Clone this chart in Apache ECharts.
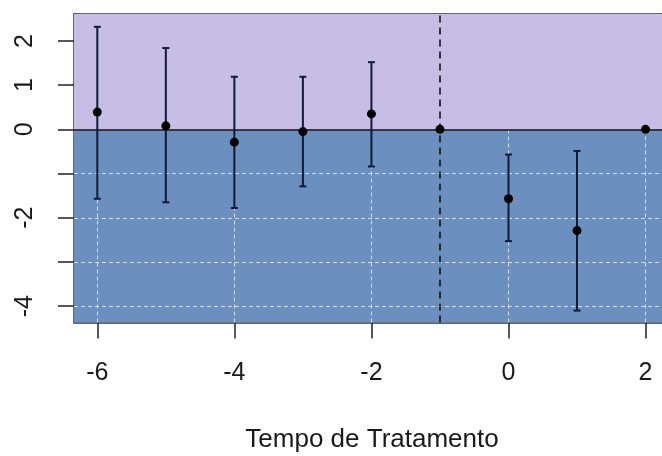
<!DOCTYPE html>
<html>
<head>
<meta charset="utf-8">
<script src="https://cdn.jsdelivr.net/npm/echarts@6/dist/echarts.min.js"></script>
<style>html,body{margin:0;padding:0;background:#fff;}#c{width:662px;height:456px;}</style>
</head>
<body>
<div id="c"></div>
<script>
// ---- data ----
var periods   = [-6, -5, -4, -3, -2, -1, 0, 1, 2];
var estimates = [0.39, 0.08, -0.29, -0.05, 0.35, 0, -1.57, -2.29, 0];
var lowerCI   = [-1.57, -1.65, -1.78, -1.29, -0.84, null, -2.53, -4.10, null];
var upperCI   = [2.32, 1.84, 1.19, 1.19, 1.52, null, -0.57, -0.49, null];
var xTicks = [-6, -4, -2, 0, 2];
var yTicks = [-4, -3, -2, -1, 0, 1, 2];
var yLabels = [-4, -2, 0, 1, 2];
var refPeriod = -1;
var xTitle = 'Tempo de Tratamento';

var X_MIN = -6.34, X_MAX = 2.24, Y_MIN = -4.37, Y_MAX = 2.61;

var chart = echarts.init(document.getElementById('c'), null, {renderer: 'canvas'});

var pts = periods.map(function (p, i) { return [p, estimates[i]]; });
var bars = [];
periods.forEach(function (p, i) {
  if (lowerCI[i] !== null) bars.push([p, lowerCI[i], upperCI[i]]);
});

var gridStyle = {color: 'rgba(255,255,255,0.7)', type: [4, 3], width: 1};
var gridLines = [];
yTicks.filter(function (v) { return v < 0; }).forEach(function (v) {
  gridLines.push([{coord: [X_MIN, v], lineStyle: gridStyle}, {coord: [X_MAX, v]}]);
});
xTicks.forEach(function (v) {
  gridLines.push([{coord: [v, Y_MIN], lineStyle: gridStyle}, {coord: [v, 0]}]);
});

var FONT = 'Liberation Sans, Arial, sans-serif';
var axisTxt = {fontFamily: FONT, fontSize: 25, color: '#1a1a1a'};

var option = {
  animation: false,
  backgroundColor: '#ffffff',
  grid: {left: 74, top: 14, right: 0, bottom: 133.5, containLabel: false},
  xAxis: [{
    type: 'value', min: X_MIN, max: X_MAX,
    axisLine: {show: true, onZero: false, lineStyle: {color: '#333', width: 1.5}},
    axisTick: {show: true, length: 16, customValues: xTicks, lineStyle: {color: '#222', width: 1.5}},
    axisLabel: Object.assign({show: true, margin: 38, customValues: xTicks}, axisTxt),
    splitLine: {show: false}
  }, {
    type: 'value', min: X_MIN, max: X_MAX, position: 'top',
    axisLine: {show: true, onZero: false, lineStyle: {color: '#333', width: 1.5}},
    axisTick: {show: false}, axisLabel: {show: false}, splitLine: {show: false}
  }],
  yAxis: [{
    type: 'value', min: Y_MIN, max: Y_MAX,
    axisLine: {show: true, onZero: false, lineStyle: {color: '#333', width: 1.5}},
    axisTick: {show: true, length: 16, customValues: yTicks, lineStyle: {color: '#222', width: 1.5}},
    axisLabel: Object.assign({show: true, margin: 36, rotate: 90, customValues: yLabels}, axisTxt),
    splitLine: {show: false}
  }, {
    type: 'value', min: Y_MIN, max: Y_MAX, position: 'right',
    axisLine: {show: true, onZero: false, lineStyle: {color: '#333', width: 1.5}},
    axisTick: {show: false}, axisLabel: {show: false}, splitLine: {show: false}
  }],
  graphic: [{
    type: 'text', x: 372, y: 440,
    style: {text: xTitle, font: '26px ' + FONT, fill: '#1a1a1a',
            align: 'center', verticalAlign: 'middle'}
  }],
  series: [{
    type: 'line', data: [], silent: true,
    markArea: {
      silent: true,
      data: [
        [{coord: [X_MIN, 0], itemStyle: {color: '#c8bde5'}}, {coord: [X_MAX, Y_MAX]}],
        [{coord: [X_MIN, Y_MIN], itemStyle: {color: '#6b8fbf'}}, {coord: [X_MAX, 0]}]
      ]
    },
    markLine: {
      silent: true, symbol: 'none', label: {show: false},
      data: gridLines.concat([
        [{coord: [X_MIN, 0], lineStyle: {color: '#1a1a1a', type: 'solid', width: 1.6}}, {coord: [X_MAX, 0]}],
        [{coord: [refPeriod, Y_MIN], lineStyle: {color: '#111', type: [7, 5], width: 1.6}}, {coord: [refPeriod, Y_MAX]}]
      ])
    }
  }, {
    type: 'custom', data: bars, z: 5,
    renderItem: function (params, api) {
      var x = api.value(0);
      var lo = api.coord([x, api.value(1)]);
      var hi = api.coord([x, api.value(2)]);
      var st = {stroke: '#121a35', lineWidth: 2};
      return {type: 'group', children: [
        {type: 'line', shape: {x1: lo[0], y1: lo[1], x2: hi[0], y2: hi[1]}, style: st},
        {type: 'line', shape: {x1: lo[0] - 3.5, y1: lo[1], x2: lo[0] + 3.5, y2: lo[1]}, style: st},
        {type: 'line', shape: {x1: hi[0] - 3.5, y1: hi[1], x2: hi[0] + 3.5, y2: hi[1]}, style: st}
      ]};
    }
  }, {
    type: 'scatter', data: pts, symbol: 'circle', symbolSize: 9, z: 6,
    itemStyle: {color: '#000', opacity: 1}
  }]
};
chart.setOption(option);
</script>
</body>
</html>
